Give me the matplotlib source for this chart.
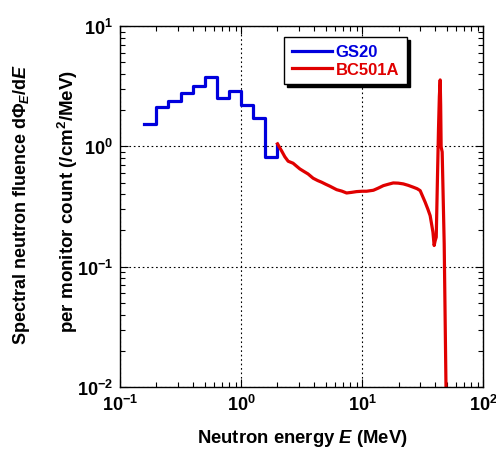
import matplotlib
matplotlib.use("Agg")
import matplotlib.pyplot as plt
import numpy as np

# GS20 histogram (bin edges in MeV, fluence per bin)
gs20_edges = [0.158, 0.2, 0.251, 0.316, 0.398, 0.501, 0.631, 0.794, 1.0, 1.26, 1.585, 1.995]
gs20_values = [1.54, 2.12, 2.40, 2.77, 3.17, 3.76, 2.53, 2.91, 2.23, 1.71, 0.81]
gs20_end = 1.05

# BC501A spectrum
bc_energy = [2.0, 2.16, 2.3, 2.45, 2.69, 2.85, 3.06, 3.3, 3.58, 3.94, 4.3, 4.63, 5.0,
             5.42, 6.16, 6.8, 7.45, 8.2, 9.0, 10.0, 10.9, 12.4, 13.6, 15.0, 16.5,
             18.1, 19.9, 21.9, 24.0, 26.5, 28.5, 30.2, 33.2, 35.0, 36.5, 37.7, 38.5,
             39.4, 40.2, 41.0, 42.0, 42.8, 43.5, 44.2, 44.6, 45.0, 45.9, 47.7, 49.5]
bc_values = [1.05, 0.92, 0.82, 0.753, 0.725, 0.69, 0.65, 0.62, 0.59, 0.544, 0.52, 0.504, 0.485,
             0.467, 0.437, 0.425, 0.41, 0.415, 0.421, 0.424, 0.424, 0.432, 0.45, 0.472, 0.485,
             0.497, 0.495, 0.488, 0.475, 0.458, 0.445, 0.429, 0.344, 0.30, 0.266, 0.22, 0.194,
             0.150, 0.165, 0.176, 0.572, 1.40, 2.6, 3.57, 2.2, 0.99, 0.90, 0.155, 0.008]

plt.rcParams['font.family'] = 'Liberation Sans'
plt.rcParams['font.weight'] = 'bold'
plt.rcParams['mathtext.fontset'] = 'custom'
plt.rcParams['mathtext.rm'] = 'Liberation Sans:bold'
plt.rcParams['mathtext.it'] = 'Liberation Sans:italic:bold'
plt.rcParams['mathtext.bf'] = 'Liberation Sans:bold'

fig = plt.figure(figsize=(4.96, 4.52), dpi=100)
ax = fig.add_axes([0.242, 0.1416, 0.732, 0.7984])

ax.plot(gs20_edges, gs20_values + [gs20_end], drawstyle='steps-post',
        color='#0000dd', lw=2.3, label='GS20')
ax.plot(bc_energy, bc_values, color='#e00000', lw=2.3, label='BC501A')

ax.set_xscale('log')
ax.set_yscale('log')
ax.set_xlim(0.1, 100)
ax.set_ylim(0.01, 10)

ax.grid(True, which='major', color='black', linestyle=(0, (1.5, 2.5)), lw=0.8)
ax.tick_params(which='both', direction='in', top=True, right=True, width=0.8)
ax.tick_params(which='major', length=6, labelsize=13, pad=5)
ax.tick_params(which='minor', length=3.5)
for sp in ax.spines.values():
    sp.set_linewidth(1.0)

leg = ax.legend(loc='upper right', bbox_to_anchor=(0.79, 0.97), borderaxespad=0,
                fontsize=12, frameon=True, fancybox=False, edgecolor='black',
                framealpha=1, shadow={'color': 'black', 'alpha': 1},
                handlelength=2.4, handletextpad=0.25, borderpad=0.45,
                labelspacing=0.15)
leg.get_frame().set_linewidth(1.0)
for txt, col in zip(leg.get_texts(), ['#0000dd', '#e00000']):
    txt.set_color(col)

fig.text(0.044, 0.548, r'Spectral neutron fluence d$\mathit{Φ}_E$/d$E$',
         rotation=90, ha='center', va='center', fontsize=13)
fig.text(0.137, 0.555, r'per monitor count (/cm$^2$/MeV)',
         rotation=90, ha='center', va='center', fontsize=13.5)
fig.text(0.61, 0.03, r'Neutron energy $E$ (MeV)', ha='center', va='center', fontsize=13.3)

fig.savefig('out.png', dpi=100)
